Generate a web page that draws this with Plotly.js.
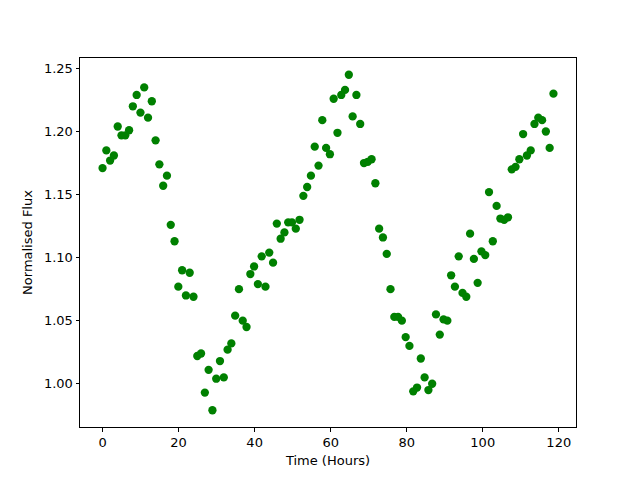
<!DOCTYPE html>
<html>
<head>
<meta charset="utf-8">
<script src="https://cdn.plot.ly/plotly-3.0.1.min.js"></script>
<style>html,body{margin:0;padding:0;background:#fff;}#chart{width:640px;height:480px;}</style>
</head>
<body>
<div id="chart"></div>
<script>
const timeHours = [0, 1.00, 1.99, 2.99, 3.99, 4.98, 5.98, 6.98, 7.97, 8.97, 9.97, 10.96, 11.96, 12.96, 13.95, 14.95, 15.95, 16.94, 17.94, 18.94,
  19.93, 20.93, 21.93, 22.92, 23.92, 24.92, 25.91, 26.91, 27.90, 28.90, 29.90, 30.89, 31.89, 32.89, 33.88, 34.88, 35.88, 36.87, 37.87, 38.87,
  39.86, 40.86, 41.86, 42.85, 43.85, 44.85, 45.84, 46.84, 47.84, 48.83, 49.83, 50.83, 51.82, 52.82, 53.82, 54.81, 55.81, 56.81, 57.80, 58.80,
  59.80, 60.79, 61.79, 62.79, 63.78, 64.78, 65.78, 66.77, 67.77, 68.77, 69.76, 70.76, 71.76, 72.75, 73.75, 74.75, 75.74, 76.74, 77.73, 78.73,
  79.73, 80.72, 81.72, 82.72, 83.71, 84.71, 85.71, 86.70, 87.70, 88.70, 89.69, 90.69, 91.69, 92.68, 93.68, 94.68, 95.67, 96.67, 97.67, 98.66,
  99.66, 100.66, 101.65, 102.65, 103.65, 104.64, 105.64, 106.64, 107.63, 108.63, 109.63, 110.62, 111.62, 112.62, 113.61, 114.61, 115.61, 116.60, 117.60, 118.60];

const normalisedFlux = [1.171, 1.185, 1.177, 1.181, 1.204, 1.197, 1.197, 1.201, 1.220, 1.229, 1.215, 1.235, 1.211, 1.224, 1.193, 1.174, 1.157, 1.165, 1.126, 1.113,
  1.077, 1.090, 1.070, 1.088, 1.069, 1.022, 1.024, 0.993, 1.011, 0.979, 1.004, 1.018, 1.005, 1.027, 1.032, 1.054, 1.075, 1.050, 1.045, 1.087,
  1.093, 1.079, 1.101, 1.077, 1.104, 1.096, 1.127, 1.115, 1.120, 1.128, 1.128, 1.123, 1.130, 1.149, 1.156, 1.165, 1.188, 1.173, 1.209, 1.187,
  1.182, 1.226, 1.199, 1.229, 1.233, 1.245, 1.212, 1.229, 1.206, 1.175, 1.176, 1.178, 1.159, 1.123, 1.116, 1.103, 1.075, 1.053, 1.053, 1.050,
  1.037, 1.030, 0.994, 0.997, 1.020, 1.005, 0.995, 1.000, 1.055, 1.039, 1.051, 1.050, 1.086, 1.077, 1.101, 1.072, 1.069, 1.119, 1.099, 1.080,
  1.105, 1.102, 1.152, 1.113, 1.141, 1.131, 1.130, 1.132, 1.170, 1.172, 1.178, 1.198, 1.181, 1.185, 1.206, 1.211, 1.209, 1.200, 1.187, 1.230];

const xTicks = [0, 20, 40, 60, 80, 100, 120];
const yTicks = [1.00, 1.05, 1.10, 1.15, 1.20, 1.25];

const trace = {
  x: timeHours,
  y: normalisedFlux,
  type: 'scatter',
  mode: 'markers',
  marker: {color: '#008000', size: 8.3, line: {width: 0}},
  hoverinfo: 'x+y'
};

const axisCommon = {
  showgrid: false,
  zeroline: false,
  showline: true,
  mirror: true,
  linecolor: '#000',
  linewidth: 1,
  ticks: 'outside',
  ticklen: 3.5,
  tickwidth: 1,
  tickcolor: '#000',
  tickfont: {family: 'DejaVu Sans', size: 13, color: '#000'}
};

const layout = {
  width: 640,
  height: 480,
  paper_bgcolor: '#fff',
  plot_bgcolor: '#fff',
  showlegend: false,
  margin: {l: 80, r: 64, t: 58, b: 53, pad: 0},
  font: {family: 'DejaVu Sans', size: 13, color: '#000'},
  xaxis: Object.assign({}, axisCommon, {
    range: [-5.93, 124.53],
    tickvals: xTicks,
    ticktext: xTicks.map(String),
    title: {text: 'Time (Hours)', font: {family: 'DejaVu Sans', size: 13, color: '#000'}, standoff: 6}
  }),
  yaxis: Object.assign({}, axisCommon, {
    range: [0.9657, 1.2583],
    tickvals: yTicks,
    ticktext: yTicks.map(v => v.toFixed(2)),
    title: {text: 'Normalised Flux', font: {family: 'DejaVu Sans', size: 13, color: '#000'}, standoff: 8}
  })
};

Plotly.newPlot('chart', [trace], layout, {displayModeBar: false, staticPlot: true});
</script>
</body>
</html>
